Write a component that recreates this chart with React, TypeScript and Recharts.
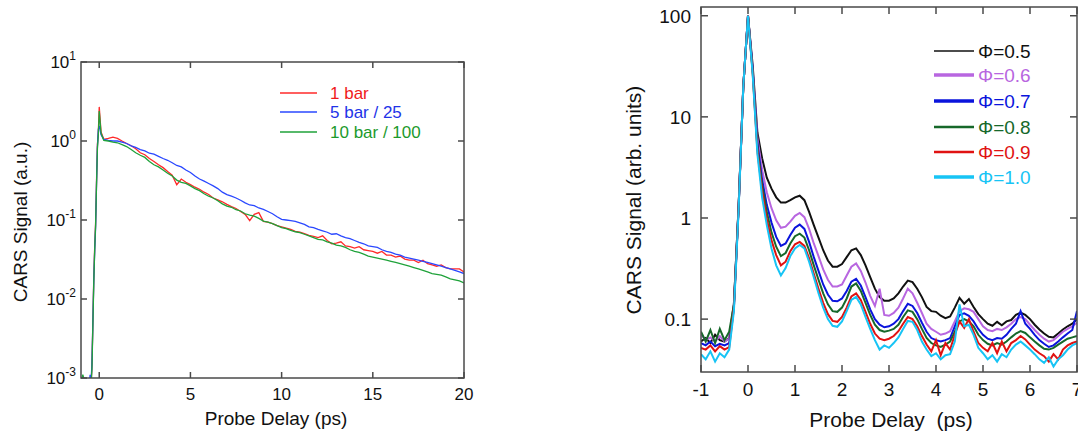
import { LineChart, Line, XAxis, YAxis } from 'recharts';

const FONT = '"Liberation Sans", Arial, Helvetica, sans-serif';
const INK = '#111';
const FRAME = '#4a4a4a';

// ---- left panel: pressure dependence ----
const leftDelay = [
  -1, -0.9, -0.8, -0.6, -0.5, -0.45, -0.4, -0.35, -0.3, -0.25, -0.2, -0.15, -0.1, -0.05, 0, 0.1,
  0.25, 0.5, 0.75, 1, 1.25, 1.5, 1.75, 2, 2.25, 2.5, 2.75, 3, 3.25, 3.5, 3.75, 4, 4.25, 4.5, 4.75, 5,
  5.25, 5.5, 5.75, 6, 6.25, 6.5, 6.75, 7, 7.25, 7.5, 7.75, 8, 8.25, 8.5, 8.75, 9, 9.25, 9.5, 9.75, 10,
  10.25, 10.5, 10.75, 11, 11.25, 11.5, 11.75, 12, 12.25, 12.5, 12.75, 13, 13.25, 13.5, 13.75, 14, 14.25, 14.5, 14.75, 15,
  15.25, 15.5, 15.75, 16, 16.25, 16.5, 16.75, 17, 17.25, 17.5, 17.75, 18, 18.25, 18.5, 18.75, 19, 19.25, 19.5, 19.75, 20,
];
const oneBar = [
  0.0005, 0.0005, 0.0005, 0.0005, 0.0006, 0.0008, 0.0014, 0.005, 0.018, 0.045, 0.09, 0.3, 0.9, 1.3, 2.7, 1.3,
  1.05, 1.08, 1.12, 1.08, 1.0, 0.93, 0.87, 0.8, 0.71, 0.67, 0.6, 0.55, 0.5, 0.46, 0.41, 0.37, 0.28, 0.33, 0.3, 0.28,
  0.26, 0.245, 0.225, 0.21, 0.19, 0.18, 0.17, 0.158, 0.148, 0.14, 0.128, 0.118, 0.098, 0.118, 0.124, 0.096, 0.094, 0.09, 0.085, 0.082,
  0.079, 0.076, 0.072, 0.07, 0.067, 0.064, 0.062, 0.06, 0.063, 0.055, 0.05, 0.051, 0.053, 0.047, 0.046, 0.044, 0.046, 0.042, 0.041, 0.04,
  0.038, 0.04, 0.036, 0.036, 0.034, 0.035, 0.032, 0.031, 0.031, 0.029, 0.031, 0.028, 0.027, 0.026, 0.027, 0.025, 0.024, 0.024, 0.024, 0.022,
];
const fiveBar = [
  0.0005, 0.0005, 0.0005, 0.0006, 0.0011, 0.0009, 0.0015, 0.005, 0.017, 0.04, 0.08, 0.28, 0.85, 1.4, 1.55, 1.2,
  1.05, 1.02, 1.0, 1.0, 0.97, 0.93, 0.87, 0.83, 0.78, 0.75, 0.7, 0.68, 0.64, 0.6, 0.57, 0.53, 0.49, 0.47, 0.43, 0.4,
  0.36, 0.33, 0.31, 0.29, 0.27, 0.25, 0.225, 0.21, 0.2, 0.19, 0.178, 0.165, 0.155, 0.152, 0.142, 0.136, 0.128, 0.12, 0.11, 0.102,
  0.1, 0.098, 0.096, 0.092, 0.088, 0.082, 0.08, 0.076, 0.073, 0.07, 0.066, 0.067, 0.063, 0.06, 0.058, 0.055, 0.052, 0.05, 0.047, 0.046,
  0.045, 0.042, 0.04, 0.039, 0.037, 0.036, 0.034, 0.033, 0.032, 0.031, 0.03, 0.029, 0.028, 0.027, 0.026, 0.025, 0.024, 0.023, 0.022, 0.021,
];
const tenBar = [
  0.0008, 0.0011, 0.0009, 0.0007, 0.0008, 0.0008, 0.0013, 0.0045, 0.016, 0.042, 0.085, 0.27, 0.8, 1.2, 2.4, 1.25,
  1.02, 1.0, 0.97, 0.95, 0.9, 0.85, 0.78, 0.71, 0.66, 0.62, 0.55, 0.5, 0.47, 0.43, 0.39, 0.36, 0.32, 0.3, 0.29, 0.27,
  0.25, 0.235, 0.215, 0.2, 0.19, 0.175, 0.16, 0.15, 0.145, 0.135, 0.13, 0.12, 0.115, 0.112, 0.105, 0.097, 0.094, 0.09, 0.085, 0.08,
  0.078, 0.074, 0.071, 0.069, 0.066, 0.063, 0.06, 0.057, 0.056, 0.053, 0.051, 0.048, 0.047, 0.045, 0.042, 0.04, 0.039, 0.037, 0.035, 0.034,
  0.033, 0.032, 0.031, 0.03, 0.029, 0.028, 0.027, 0.026, 0.025, 0.024, 0.023, 0.022, 0.021, 0.0205, 0.02, 0.019, 0.018, 0.0175, 0.017, 0.016,
];
const leftXTicks = [0, 5, 10, 15, 20];
const leftYTicks = [0.001, 0.01, 0.1, 1, 10];
const leftSeries = [
  { key: 'oneBar', name: '1 bar', color: '#ff2a2a', text: '#f01a1a' },
  { key: 'fiveBar', name: '5 bar / 25', color: '#2a48ff', text: '#2233e8' },
  { key: 'tenBar', name: '10 bar / 100', color: '#1fa23a', text: '#1c9a2c' },
];

// ---- right panel: equivalence ratio dependence ----
const rightDelay = [
  -1, -0.9, -0.8, -0.7, -0.6, -0.5, -0.4, -0.3, -0.2, -0.1,
  0, 0.1, 0.2, 0.3, 0.4, 0.5, 0.6, 0.7, 0.8, 0.9,
  1, 1.1, 1.2, 1.3, 1.4, 1.5, 1.6, 1.7, 1.8, 1.9,
  2, 2.1, 2.2, 2.3, 2.4, 2.5, 2.6, 2.7, 2.8, 2.9,
  3, 3.1, 3.2, 3.3, 3.4, 3.5, 3.6, 3.7, 3.8, 3.9,
  4, 4.1, 4.2, 4.3, 4.4, 4.5, 4.6, 4.7, 4.8, 4.9,
  5, 5.1, 5.2, 5.3, 5.4, 5.5, 5.6, 5.7, 5.8, 5.9,
  6, 6.1, 6.2, 6.3, 6.4, 6.5, 6.6, 6.7, 6.8, 6.9,
  7,
];
const phi05 = [
  0.06, 0.065, 0.058, 0.07, 0.062, 0.06, 0.065, 0.14, 1.3, 20,
  100, 32, 7, 3.9, 2.5, 1.95, 1.6, 1.42, 1.42, 1.5,
  1.6, 1.66, 1.5, 1.15, 0.85, 0.64, 0.48, 0.38, 0.33, 0.33,
  0.35, 0.41, 0.48, 0.5, 0.43, 0.34, 0.26, 0.2, 0.165, 0.152,
  0.152, 0.16, 0.18, 0.21, 0.24, 0.232, 0.2, 0.165, 0.132, 0.12,
  0.118, 0.108, 0.102, 0.106, 0.13, 0.162, 0.142, 0.158, 0.132, 0.112,
  0.1, 0.09, 0.086, 0.094, 0.087, 0.095, 0.098, 0.11, 0.116, 0.11,
  0.1, 0.088, 0.079, 0.072, 0.067, 0.066, 0.072, 0.079, 0.085, 0.09,
  0.1,
];
const phi06 = [
  0.07, 0.062, 0.066, 0.06, 0.068, 0.06, 0.064, 0.14, 1.3, 20,
  100, 30, 6.2, 3.0, 1.8, 1.25, 0.95, 0.8, 0.82, 0.92,
  1.05, 1.12, 1.02, 0.78, 0.56, 0.42, 0.31, 0.245, 0.21, 0.21,
  0.22, 0.27, 0.33, 0.355, 0.3, 0.23, 0.17, 0.135, 0.2, 0.11,
  0.108, 0.115, 0.13, 0.16, 0.2, 0.18, 0.145, 0.115, 0.09, 0.08,
  0.075, 0.07, 0.072, 0.076, 0.095, 0.12, 0.128, 0.125, 0.118, 0.1,
  0.085, 0.078, 0.076, 0.08, 0.078, 0.083, 0.09, 0.1, 0.105, 0.1,
  0.088, 0.078, 0.07, 0.064, 0.06, 0.062, 0.068, 0.075, 0.08, 0.085,
  0.092,
];
const phi07 = [
  0.058, 0.055, 0.06, 0.054, 0.057, 0.055, 0.058, 0.13, 1.25, 20,
  100, 29, 5.5, 2.4, 1.35, 0.9, 0.65, 0.53, 0.56, 0.68,
  0.8, 0.86, 0.78, 0.58, 0.41, 0.3, 0.22, 0.175, 0.152, 0.15,
  0.16, 0.19, 0.235, 0.25, 0.215, 0.165, 0.125, 0.1, 0.088, 0.083,
  0.085, 0.09, 0.1, 0.12, 0.142, 0.135, 0.115, 0.092, 0.075, 0.065,
  0.062, 0.06, 0.062, 0.065, 0.085, 0.11, 0.114, 0.108, 0.095, 0.08,
  0.07, 0.064, 0.062, 0.065, 0.064, 0.07, 0.08, 0.09, 0.12, 0.09,
  0.08, 0.07, 0.062, 0.057, 0.053, 0.055, 0.06, 0.066, 0.072, 0.078,
  0.12,
];
const phi08 = [
  0.075, 0.06, 0.078, 0.058, 0.08, 0.062, 0.075, 0.14, 1.3, 20,
  100, 28, 5.0, 2.1, 1.15, 0.72, 0.52, 0.42, 0.45, 0.56,
  0.66, 0.7, 0.64, 0.48, 0.34, 0.245, 0.18, 0.14, 0.12, 0.118,
  0.13, 0.16, 0.21, 0.225, 0.19, 0.145, 0.11, 0.088, 0.078, 0.075,
  0.077, 0.08, 0.088, 0.105, 0.122, 0.118, 0.1, 0.08, 0.065, 0.058,
  0.055, 0.053, 0.056, 0.06, 0.075, 0.095, 0.1, 0.095, 0.085, 0.07,
  0.062, 0.057, 0.055, 0.058, 0.056, 0.06, 0.066, 0.072, 0.076, 0.073,
  0.066, 0.06, 0.055, 0.051, 0.05, 0.052, 0.056, 0.06, 0.064, 0.066,
  0.068,
];
const phi09 = [
  0.052, 0.05, 0.055, 0.048, 0.054, 0.05, 0.053, 0.13, 1.25, 20,
  100, 27, 4.6, 1.85, 0.98, 0.6, 0.43, 0.34, 0.37, 0.47,
  0.55, 0.58, 0.53, 0.4, 0.28, 0.2, 0.145, 0.112, 0.096, 0.094,
  0.105, 0.13, 0.168, 0.18, 0.155, 0.118, 0.09, 0.072, 0.064, 0.062,
  0.064, 0.068, 0.076, 0.09, 0.105, 0.1, 0.085, 0.068, 0.056, 0.048,
  0.062, 0.044, 0.058, 0.05, 0.07, 0.095, 0.082, 0.1, 0.075, 0.058,
  0.052, 0.048, 0.058, 0.046, 0.06, 0.048, 0.058, 0.062, 0.068, 0.063,
  0.056, 0.05, 0.046, 0.043, 0.038, 0.045, 0.04, 0.05, 0.055, 0.058,
  0.06,
];
const phi10 = [
  0.045, 0.04, 0.048, 0.038, 0.046, 0.042, 0.05, 0.12, 1.2, 20,
  100, 26, 4.3, 1.6, 0.85, 0.5, 0.34, 0.27, 0.32, 0.42,
  0.5, 0.54, 0.5, 0.37, 0.26, 0.18, 0.13, 0.1, 0.086, 0.084,
  0.095, 0.12, 0.155, 0.166, 0.14, 0.105, 0.08, 0.062, 0.05, 0.055,
  0.052, 0.058, 0.066, 0.08, 0.096, 0.094, 0.078, 0.06, 0.05, 0.043,
  0.046, 0.04, 0.044, 0.045, 0.06, 0.14, 0.085, 0.088, 0.07, 0.052,
  0.046, 0.04, 0.044, 0.038, 0.045, 0.042, 0.05, 0.056, 0.06, 0.055,
  0.05, 0.045, 0.04, 0.037, 0.042, 0.034, 0.04, 0.044, 0.05, 0.055,
  0.058,
];
const rightXTicks = [-1, 0, 1, 2, 3, 4, 5, 6, 7];
const rightYTicks = [0.1, 1, 10, 100];
const rightSeries = [
  { key: 'phi05', name: 'Φ=0.5', color: '#111111', legendWidth: 1.5 },
  { key: 'phi06', name: 'Φ=0.6', color: '#b866e0', legendWidth: 3.5 },
  { key: 'phi07', name: 'Φ=0.7', color: '#0a14dc', legendWidth: 3.5 },
  { key: 'phi08', name: 'Φ=0.8', color: '#16682a', legendWidth: 2.5 },
  { key: 'phi09', name: 'Φ=0.9', color: '#e01212', legendWidth: 2.5 },
  { key: 'phi10', name: 'Φ=1.0', color: '#17c4f5', legendWidth: 3.5 },
];

const leftRows = leftDelay.map((t, i) => ({ t, oneBar: oneBar[i], fiveBar: fiveBar[i], tenBar: tenBar[i] }));
const rightRows = rightDelay.map((t, i) => ({
  t, phi05: phi05[i], phi06: phi06[i], phi07: phi07[i], phi08: phi08[i], phi09: phi09[i], phi10: phi10[i],
}));

// plot boxes
const L = { x: 81, y: 62, w: 383, h: 316 };
const R = { x: 701, y: 7, w: 376, h: 365 };
const AX_H = 30;
const AX_W = 40;

const LeftXTick = ({ x, payload }: any) => (
  <g>
    <line x1={x} x2={x} y1={L.y + L.h} y2={L.y + L.h - 6} stroke={FRAME} strokeWidth={1.5} />
    <line x1={x} x2={x} y1={L.y} y2={L.y + 6} stroke={FRAME} strokeWidth={1.5} />
    <text x={x} y={L.y + L.h + 22} textAnchor="middle" fontSize={17} fill={INK} fontFamily={FONT}>{payload.value}</text>
  </g>
);

const LeftYTick = ({ y, payload }: any) => {
  const exp = Math.round(Math.log10(payload.value));
  return (
    <g>
      <line x1={L.x} x2={L.x + 6} y1={y} y2={y} stroke={FRAME} strokeWidth={1.5} />
      <line x1={L.x + L.w} x2={L.x + L.w - 6} y1={y} y2={y} stroke={FRAME} strokeWidth={1.5} />
      <text x={L.x - 5} y={y + 6} textAnchor="end" fontSize={17} fill={INK} fontFamily={FONT}>
        10<tspan dy={-8} fontSize={12}>{exp}</tspan>
      </text>
    </g>
  );
};

const RX = R.x - 600;

const RightXTick = ({ x, payload }: any) => (
  <g>
    <line x1={x} x2={x} y1={R.y + R.h} y2={R.y + R.h - 7} stroke={FRAME} strokeWidth={1.5} />
    <line x1={x} x2={x} y1={R.y} y2={R.y + 7} stroke={FRAME} strokeWidth={1.5} />
    <text x={x} y={R.y + R.h + 24} textAnchor="middle" fontSize={19} fill={INK} fontFamily={FONT}>{payload.value}</text>
  </g>
);

const RightYTick = ({ y, payload }: any) => (
  <g>
    <line x1={RX} x2={RX + 7} y1={y} y2={y} stroke={FRAME} strokeWidth={1.5} />
    <line x1={RX + R.w} x2={RX + R.w - 7} y1={y} y2={y} stroke={FRAME} strokeWidth={1.5} />
    <text x={RX - 10} y={y + 7} textAnchor="end" fontSize={19} fill={INK} fontFamily={FONT}>{payload.value}</text>
  </g>
);

export default function App() {
  return (
    <div style={{ position: 'absolute', left: 0, top: 0, width: 1078, height: 435, background: '#fff', fontFamily: FONT }}>
      <div style={{ position: 'absolute', left: 0, top: 0 }}>
        <LineChart width={480} height={435} data={leftRows}
          margin={{ top: L.y, left: L.x - AX_W, right: 480 - L.x - L.w, bottom: 435 - L.y - L.h - AX_H }}>
          <XAxis dataKey="t" type="number" domain={[-1, 20]} ticks={leftXTicks} interval={0} height={AX_H}
            axisLine={false} tickLine={false} tick={<LeftXTick />} allowDataOverflow />
          <YAxis type="number" scale="log" domain={[0.001, 10]} ticks={leftYTicks} interval={0} width={AX_W}
            axisLine={false} tickLine={false} tick={<LeftYTick />} allowDataOverflow />
          {leftSeries.map((s) => (
            <Line key={s.key} dataKey={s.key} stroke={s.color} strokeWidth={1.3} dot={false} type="linear" isAnimationActive={false} />
          ))}
        </LineChart>
      </div>
      <div style={{ position: 'absolute', left: 600, top: 0 }}>
        <LineChart width={478} height={435} data={rightRows}
          margin={{ top: R.y, left: RX - AX_W, right: 478 - RX - R.w, bottom: 435 - R.y - R.h - AX_H }}>
          <XAxis dataKey="t" type="number" domain={[-1, 7]} ticks={rightXTicks} interval={0} height={AX_H}
            axisLine={false} tickLine={false} tick={<RightXTick />} allowDataOverflow />
          <YAxis type="number" scale="log" domain={[0.03, 122]} ticks={rightYTicks} interval={0} width={AX_W}
            axisLine={false} tickLine={false} tick={<RightYTick />} allowDataOverflow />
          {rightSeries.map((s) => (
            <Line key={s.key} dataKey={s.key} stroke={s.color} strokeWidth={2} dot={false} type="linear" isAnimationActive={false} />
          ))}
        </LineChart>
      </div>
      <svg width={1078} height={435} style={{ position: 'absolute', left: 0, top: 0, pointerEvents: 'none' }}>
        <rect x={L.x} y={L.y} width={L.w} height={L.h} fill="none" stroke={FRAME} strokeWidth={1.5} />
        <rect x={R.x} y={R.y} width={R.w} height={R.h} fill="none" stroke={FRAME} strokeWidth={1.5} />
        <text x={20} y={222} transform="rotate(-90 20 222)" textAnchor="middle" dominantBaseline="central" fontSize={19} fill={INK} fontFamily={FONT}>CARS Signal (a.u.)</text>
        <text x={276} y={418} textAnchor="middle" dominantBaseline="central" fontSize={19} fill={INK} fontFamily={FONT}>Probe Delay (ps)</text>
        <text x={633} y={200} transform="rotate(-90 633 200)" textAnchor="middle" dominantBaseline="central" fontSize={21} fill={INK} fontFamily={FONT}>CARS Signal (arb. units)</text>
        <text x={891} y={419} textAnchor="middle" dominantBaseline="central" fontSize={21} fill={INK} fontFamily={FONT} style={{ whiteSpace: 'pre' }}>Probe Delay  (ps)</text>
        {leftSeries.map((s, i) => {
          const y = [93, 112, 132][i];
          return (
            <g key={s.key}>
              <line x1={280} x2={317} y1={y} y2={y} stroke={s.color} strokeWidth={1.5} />
              <text x={330} y={y + 6} fontSize={17} fill={s.text} fontFamily={FONT}>{s.name}</text>
            </g>
          );
        })}
        {rightSeries.map((s, i) => {
          const y = [51, 75, 101, 127, 152, 177][i];
          return (
            <g key={s.key}>
              <line x1={934} x2={974} y1={y} y2={y} stroke={s.color} strokeWidth={s.legendWidth} />
              <text x={978} y={y + 7} fontSize={19} fill={s.color} fontFamily={FONT}>{s.name}</text>
            </g>
          );
        })}
      </svg>
    </div>
  );
}
